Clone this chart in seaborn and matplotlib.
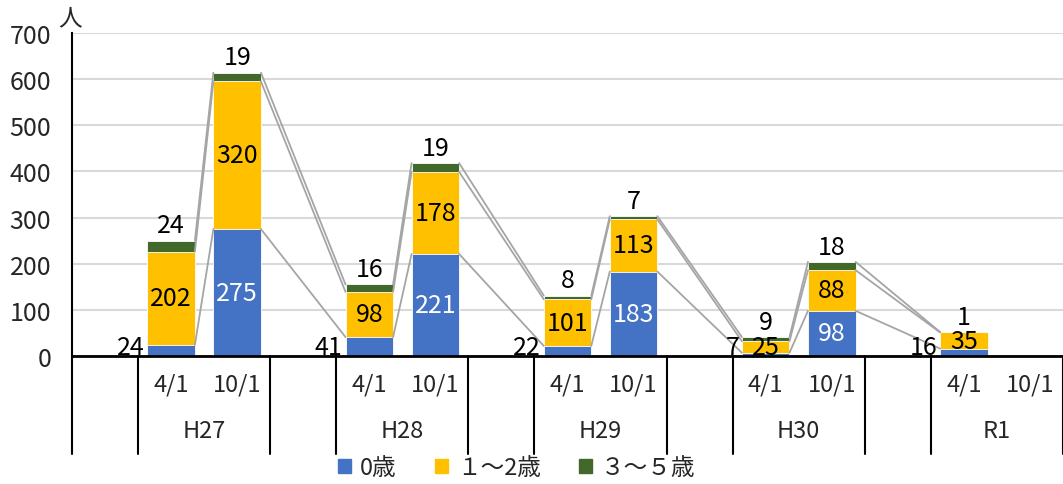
import pandas as pd
import seaborn as sns
from matplotlib import pyplot as plt
from matplotlib.patches import Patch

years = ["H27", "H28", "H29", "H30", "R1"]
dates = ["4/1", "10/1"]
# values per (year, date); R1 10/1 has no data
age0 = [24, 275, 41, 221, 22, 183, 7, 98, 16]
age12 = [202, 320, 98, 178, 101, 113, 25, 88, 35]
age35 = [24, 19, 16, 19, 8, 7, 9, 18, 1]
series_names = ["0歳", "１～2歳", "３～５歳"]

BLUE = "#4472C4"
YELLOW = "#FFC000"
GREEN = "#43682B"
LINE_GRAY = "#A5A5A5"
W = 0.72
FS = 18

sns.set_style("white")
plt.rcParams['font.family'] = ['Noto Sans CJK JP', 'DejaVu Sans']

# slot order: blank, 4/1, 10/1 for each year
order = []
for i, y in enumerate(years):
    order.append("blank%d" % i)
    for d in dates:
        order.append(y + " " + d)

slots = [y + " " + d for y in years for d in dates][:len(age0)]
df = pd.DataFrame({"slot": slots, "age0": age0, "age12": age12, "age35": age35})
df["cum12"] = df["age0"] + df["age12"]
df["total"] = df["cum12"] + df["age35"]

fig = plt.figure(figsize=(10.63, 4.85), dpi=100)
ax = fig.add_axes([72 / 1063, 128 / 485, 991 / 1063, 323 / 485])

kw = dict(order=order, width=W, saturation=1, errorbar=None,
          edgecolor="white", linewidth=0.6, ax=ax)
sns.barplot(data=df, x="slot", y="total", color=GREEN, **kw)
sns.barplot(data=df, x="slot", y="cum12", color=YELLOW, **kw)
sns.barplot(data=df, x="slot", y="age0", color=BLUE, **kw)

ax.set_xlim(-0.5, len(order) - 0.5)
ax.set_ylim(0, 700)
ax.set_yticks(range(0, 701, 100))
ax.set_xticks([])
ax.set_xlabel("")
ax.set_ylabel("")
ax.tick_params(axis="y", length=0, pad=15, labelsize=FS)
ax.yaxis.grid(True, color="#D9D9D9", lw=1.5)
ax.set_axisbelow(True)
for s in ["top", "right"]:
    ax.spines[s].set_visible(False)
ax.spines["left"].set_color("black")
ax.spines["left"].set_linewidth(1.5)
ax.spines["bottom"].set_color("black")
ax.spines["bottom"].set_linewidth(2)

# series lines between consecutive bars
pos = [order.index(s) for s in df["slot"]]
for col in ["age0", "cum12", "total"]:
    vals = df[col].tolist()
    for i in range(len(pos) - 1):
        ax.plot([pos[i] + W / 2, pos[i + 1] - W / 2], [vals[i], vals[i + 1]],
                color=LINE_GRAY, lw=1.3, zorder=1.5)

# data labels
for i, row in df.iterrows():
    x = pos[i]
    if row["slot"].endswith("10/1"):
        ax.text(x, row["age0"] / 2, str(row["age0"]), ha="center", va="center",
                color="white", fontsize=FS)
    else:
        ax.annotate(str(row["age0"]), (x - W / 2, max(row["age0"] / 2, 20)),
                    xytext=(-2, 0), textcoords="offset points",
                    ha="right", va="center", color="black", fontsize=FS)
    ax.text(x, row["age0"] + row["age12"] / 2, str(row["age12"]),
            ha="center", va="center", color="black", fontsize=FS)
    ax.annotate(str(row["age35"]), (x, row["total"]), xytext=(0, 11),
                textcoords="offset points", ha="center", va="center",
                color="black", fontsize=FS)

# multi-level category axis
trans = ax.get_xaxis_transform()
for i, y in enumerate(years):
    for j, d in enumerate(dates):
        ax.text(3 * i + 1 + j, -0.087, d, transform=trans, ha="center",
                va="center", fontsize=FS - 1)
    ax.text(3 * i + 1.5, -0.232, y, transform=trans, ha="center",
            va="center", fontsize=FS - 1)
seps = []
for i in range(len(years)):
    seps += [3 * i - 0.5, 3 * i + 0.5]
seps.append(len(order) - 0.5)
for x in seps:
    ax.plot([x, x], [0, -0.303], transform=trans, color="black", lw=1.5,
            clip_on=False)

fig.text(70 / 1063, 1 - 19 / 485, "人", ha="center", va="center", fontsize=FS - 1)

handles = [Patch(color=c) for c in [BLUE, YELLOW, GREEN]]
fig.legend(handles, series_names, loc="center", bbox_to_anchor=(0.486, 0.033),
           ncol=3, frameon=False, fontsize=FS - 1, handlelength=0.55,
           handleheight=0.55, handletextpad=0.4, columnspacing=1.6)

fig.savefig("out.png", dpi=100)
